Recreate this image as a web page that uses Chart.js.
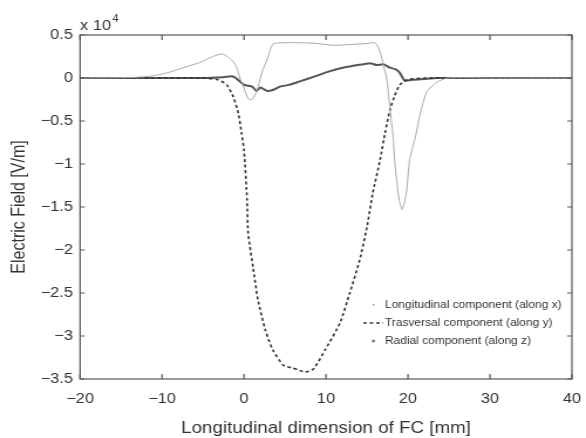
<!DOCTYPE html>
<html>
<head>
<meta charset="utf-8">
<script src="https://cdn.jsdelivr.net/npm/chart.js@4.4.1/dist/chart.umd.min.js"></script>
<style>
  html, body { margin: 0; padding: 0; background: #fff; overflow: hidden; }
  /* la figura original está estirada en horizontal */
  #wrap { width: 500px; height: 438px; transform: scaleX(1.172); transform-origin: 0 0; }
</style>
</head>
<body>
<div id="wrap"><canvas id="chart" width="500" height="438"></canvas></div>
<script>
// Datos (campo en unidades de 10^4 V/m)
const longX = [-20, -14, -11.5, -9.4, -7.4, -5.4, -3.8, -2.6, -1.3, -0.9, -0.5, 0, 0.5, 1, 1.6, 2.2, 2.8, 3.2, 3.6, 5, 7, 9, 11, 13, 15, 16, 16.6, 17, 17.4, 17.6, 17.8, 18.2, 18.4, 18.8, 19, 19.3, 19.8, 20.2, 20.9, 21.5, 22.3, 23.5, 24.8, 30, 40];
const longY = [0, 0.005, 0.02, 0.06, 0.12, 0.18, 0.25, 0.28, 0.19, 0.12, 0.0, -0.12, -0.24, -0.25, -0.14, 0.07, 0.21, 0.33, 0.40, 0.41, 0.41, 0.40, 0.38, 0.39, 0.40, 0.41, 0.30, 0.15, 0.0, -0.17, -0.35, -0.69, -0.99, -1.34, -1.45, -1.53, -1.34, -0.95, -0.69, -0.41, -0.16, -0.05, 0, 0, 0];

const travX = [-20, -10, -5, -3.2, -2.1, -1.3, -0.7, -0.3, 0, 0.37, 0.5, 1.1, 1.7, 2.6, 3.5, 4.8, 5.8, 6.8, 7.5, 8.5, 9.9, 11.7, 12.9, 14.1, 15, 15.7, 16.6, 17.2, 17.8, 18.4, 19, 19.9, 22, 40];
const travY = [0, 0, 0, -0.02, -0.08, -0.22, -0.41, -0.64, -0.84, -1.42, -1.8, -2.2, -2.58, -2.93, -3.16, -3.34, -3.37, -3.4, -3.42, -3.38, -3.16, -2.85, -2.5, -2.12, -1.73, -1.34, -0.95, -0.64, -0.37, -0.2, -0.08, -0.02, 0, 0];

const radX = [-20, -5, -2.5, -1.5, -1, 0, 1, 1.5, 2, 2.8, 3.5, 4.4, 5.5, 6.8, 8.4, 10.5, 12.6, 14.6, 15.5, 16.2, 17, 17.8, 18.5, 19, 19.6, 20.6, 22.3, 23.5, 40];
const radY = [0, 0, 0.01, 0.02, 0.0, -0.08, -0.1, -0.15, -0.11, -0.15, -0.14, -0.1, -0.08, -0.04, 0.01, 0.08, 0.13, 0.16, 0.17, 0.15, 0.16, 0.12, 0.1, 0.06, -0.03, -0.02, -0.01, 0, 0];

const xTicks = [-20, -10, 0, 10, 20, 30, 40];
const yTicks = [0.5, 0, -0.5, -1, -1.5, -2, -2.5, -3, -3.5];

const legendLabels = [
  'Longitudinal component (along x)',
  'Trasversal component (along y)',
  'Radial component (along z)'
];

const toPts = (xs, ys) => xs.map((x, i) => ({ x: x, y: ys[i] }));
const fmt = v => (v < 0 ? '\u2212' + Math.abs(v) : String(v));

const FONT = '"Liberation Sans", Arial, sans-serif';
const TXT = '#333';
const AXIS = '#555';

// Marco, marcas hacia dentro, leyenda y factor x 10^4
const boxPlugin = {
  id: 'boxPlugin',
  afterDraw(chart) {
    const ctx = chart.ctx;
    const a = chart.chartArea;
    const sx = chart.scales.x, sy = chart.scales.y;
    ctx.save();
    ctx.strokeStyle = AXIS;
    ctx.lineWidth = 1.2;
    ctx.strokeRect(a.left, a.top, a.right - a.left, a.bottom - a.top);
    ctx.beginPath();
    xTicks.forEach(v => {
      const px = sx.getPixelForValue(v);
      ctx.moveTo(px, a.bottom); ctx.lineTo(px, a.bottom - 5);
      ctx.moveTo(px, a.top); ctx.lineTo(px, a.top + 5);
    });
    yTicks.forEach(v => {
      const py = sy.getPixelForValue(v);
      ctx.moveTo(a.left, py); ctx.lineTo(a.left + 4, py);
      ctx.moveTo(a.right, py); ctx.lineTo(a.right - 4, py);
    });
    ctx.stroke();

    // x 10^4
    ctx.fillStyle = TXT;
    ctx.textBaseline = 'alphabetic';
    ctx.font = '14px ' + FONT;
    ctx.fillText('x 10', a.left, a.top - 5);
    const w = ctx.measureText('x 10').width;
    ctx.font = '10px ' + FONT;
    ctx.fillText('4', a.left + w + 1, a.top - 13);

    // Leyenda
    const lx = 328.5, ly = [305, 323, 341];
    ctx.font = '10.2px ' + FONT;
    ctx.textBaseline = 'middle';
    legendLabels.forEach((t, i) => ctx.fillText(t, lx, ly[i]));
    ctx.fillStyle = '#999';
    ctx.fillRect(318, ly[0] - 1, 1.5, 1.5);
    ctx.strokeStyle = '#333';
    ctx.lineWidth = 1.6;
    ctx.setLineDash([3, 2.5]);
    ctx.beginPath();
    ctx.moveTo(310, ly[1]); ctx.lineTo(327, ly[1]);
    ctx.stroke();
    ctx.setLineDash([]);
    ctx.fillStyle = '#666';
    ctx.fillRect(317.5, ly[2] - 1.2, 2.2, 2.5);
    ctx.restore();
  }
};

new Chart(document.getElementById('chart').getContext('2d'), {
  type: 'scatter',
  data: {
    datasets: [
      {
        label: legendLabels[0],
        data: toPts(longX, longY),
        showLine: true,
        borderColor: '#a8a8a8',
        borderWidth: 1,
        pointRadius: 0,
        tension: 0.2
      },
      {
        label: legendLabels[1],
        data: toPts(travX, travY),
        showLine: true,
        borderColor: '#333',
        borderWidth: 1.6,
        borderDash: [3, 2.5],
        pointRadius: 0,
        tension: 0.2
      },
      {
        label: legendLabels[2],
        data: toPts(radX, radY),
        showLine: true,
        borderColor: '#555',
        borderWidth: 2,
        pointRadius: 0,
        tension: 0.2
      }
    ]
  },
  options: {
    responsive: false,
    animation: false,
    layout: { padding: { top: 35, right: 12, left: 0, bottom: 0 } },
    plugins: {
      legend: { display: false },
      tooltip: { enabled: false }
    },
    scales: {
      x: {
        type: 'linear',
        min: -20,
        max: 40,
        afterBuildTicks: s => { s.ticks = xTicks.map(v => ({ value: v })); },
        afterFit: s => { s.height = 59; s.paddingLeft = 0; s.paddingRight = 0; },
        grid: { display: false, drawTicks: false },
        border: { display: false },
        ticks: { padding: 12, color: TXT, font: { family: FONT, size: 14 }, callback: v => fmt(v) },
        title: { display: true, text: 'Longitudinal dimension of FC [mm]', color: TXT, font: { family: FONT, size: 16 }, padding: { top: 0, bottom: 0 } }
      },
      y: {
        type: 'linear',
        min: -3.5,
        max: 0.5,
        afterBuildTicks: s => { s.ticks = yTicks.map(v => ({ value: v })); },
        afterFit: s => { s.width = 68.3; s.paddingTop = 0; s.paddingBottom = 0; },
        grid: { display: false, drawTicks: false },
        border: { display: false },
        ticks: { padding: 6, color: TXT, font: { family: FONT, size: 14 }, callback: v => fmt(v) },
        title: { display: true, text: 'Electric Field [V/m]', color: TXT, font: { family: FONT, size: 16 }, padding: { top: 7, bottom: 0 } }
      }
    }
  },
  plugins: [boxPlugin]
});
</script>
</body>
</html>
